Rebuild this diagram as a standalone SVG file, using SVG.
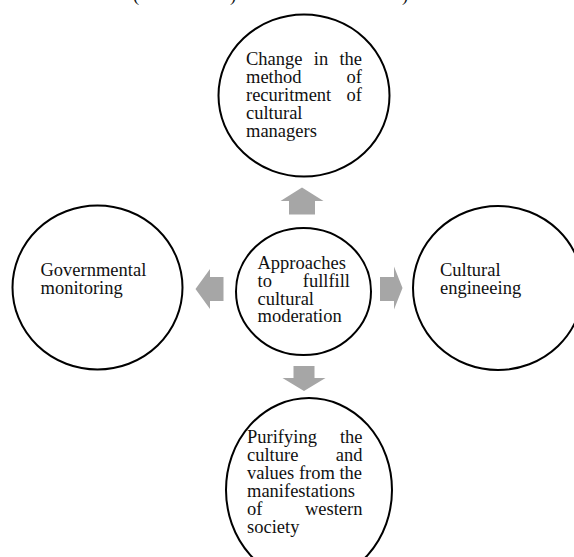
<svg xmlns="http://www.w3.org/2000/svg" width="574" height="557" viewBox="0 0 574 557">
<style>
  .node { fill: #ffffff; stroke: #000000; stroke-width: 2; }
  .arrow { fill: #a6a6a6; stroke: none; }
  text { font-family: "Liberation Serif", "Times New Roman", serif; font-size: 18.5px; fill: #111111; }
  .end { text-anchor: end; }
</style>
<rect x="0" y="0" width="574" height="557" fill="#ffffff"/>
<g id="cropped-caption">
  <text x="133" y="1">(</text>
  <text x="230" y="1">)</text>
  <text x="402" y="1">)</text>
</g>
<g id="connectors">
  <polygon class="arrow" points="302,187.5 323.5,201 315,201 315,214.5 289,214.5 289,201 280.5,201"/>
  <polygon class="arrow" points="195.5,289 210,269 210,277 223.5,277 223.5,301 210,301 210,309"/>
  <polygon class="arrow" points="402.5,288 394,266.5 394,277 380,277 380,301 394,301 394,309.5"/>
  <polygon class="arrow" points="304,391 325.5,378 314.5,378 314.5,366 293.5,366 293.5,378 282.5,378"/>
</g>
<g id="node-top">
  <ellipse class="node" cx="304" cy="95.5" rx="85.5" ry="81"/>
  <text x="246" y="65">Change</text>
  <text x="313.8" y="65">in</text>
  <text class="end" x="362" y="65">the</text>
  <text x="246" y="83">method</text>
  <text class="end" x="362" y="83">of</text>
  <text x="246" y="101">recuritment</text>
  <text class="end" x="362" y="101">of</text>
  <text x="246" y="119">cultural</text>
  <text x="246" y="137">managers</text>
</g>
<g id="node-center">
  <ellipse class="node" cx="303.5" cy="291.5" rx="67.5" ry="63.5"/>
  <text x="257.5" y="268.5">Approaches</text>
  <text x="257.5" y="286.5">to</text>
  <text class="end" x="350" y="286.5">fullfill</text>
  <text x="257.5" y="304.5">cultural</text>
  <text x="257.5" y="322">moderation</text>
</g>
<g id="node-left">
  <ellipse class="node" cx="97.5" cy="287.5" rx="85" ry="82"/>
  <text x="40.5" y="275.5">Governmental</text>
  <text x="40.5" y="293.5">monitoring</text>
</g>
<g id="node-right">
  <ellipse class="node" cx="498" cy="288" rx="85" ry="82"/>
  <text x="440" y="275.5">Cultural</text>
  <text x="440" y="293.5">engineeing</text>
</g>
<g id="node-bottom">
  <ellipse class="node" cx="309" cy="490" rx="83" ry="92"/>
  <text x="247" y="443">Purifying</text>
  <text class="end" x="362.5" y="443">the</text>
  <text x="247" y="461">culture</text>
  <text class="end" x="362.5" y="461">and</text>
  <text x="247" y="479">values from the</text>
  <text x="247" y="497">manifestations</text>
  <text x="247" y="515">of</text>
  <text class="end" x="362.5" y="515">western</text>
  <text x="247" y="533">society</text>
</g>
</svg>
